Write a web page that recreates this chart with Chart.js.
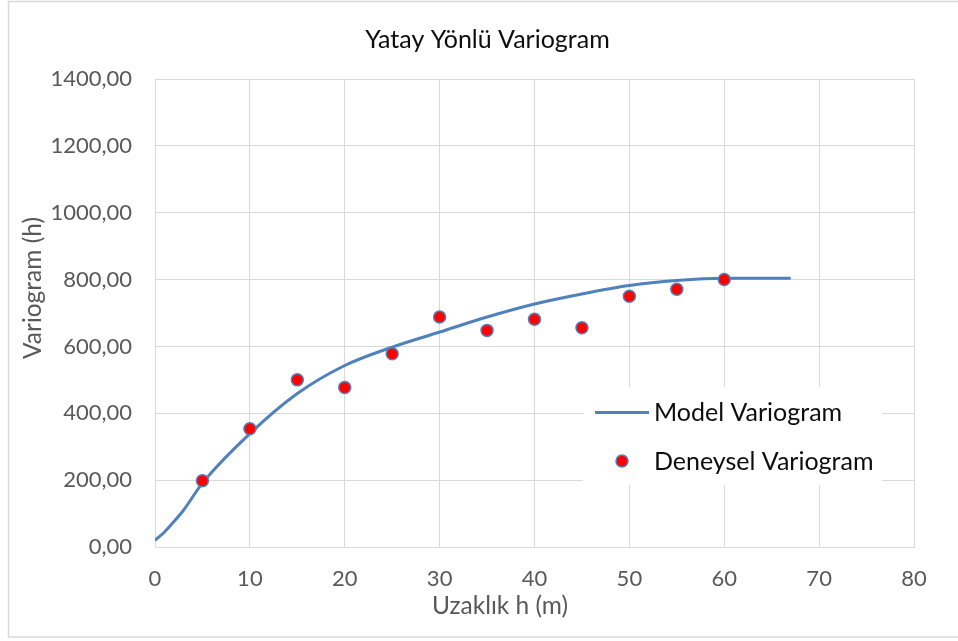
<!DOCTYPE html>
<html><head><meta charset="utf-8">
<script src="https://cdn.jsdelivr.net/npm/chart.js@4.4.0/dist/chart.umd.min.js"></script>
<style>html,body{margin:0;padding:0;background:#fff;overflow:hidden}</style>
</head><body>
<canvas id="c" width="958" height="641" style="display:block;width:958px;height:641px"></canvas>
<script>
const chartTitle = 'Yatay Yönlü Variogram';
const xAxisTitle = 'Uzaklık h (m)';
const yAxisTitle = 'Variogram (h)';
const modelLabel = 'Model Variogram';
const expLabel = 'Deneysel Variogram';

const modelX = [0, 1, 2, 3, 5, 10, 15, 20, 25, 30, 35, 40, 45, 50, 55, 60, 67];
const modelY = [20, 45, 76, 110, 191, 339, 459, 543, 598, 643, 688, 727, 757, 782, 797, 804, 804];

const expX = [5, 10, 15, 20, 25, 30, 35, 40, 45, 50, 55, 60];
const expY = [198, 354, 500, 477, 578, 688, 648, 681, 656, 750, 771, 800];

const xTicks = [0, 10, 20, 30, 40, 50, 60, 70, 80];
const yTicks = [0, 200, 400, 600, 800, 1000, 1200, 1400];

const FONT = 'Lato';
const LINE_COLOR = '#4F81BD';
const POINT_FILL = '#FF0000';
const GRID = '#D9D9D9';

const deco = {
  id: 'deco',
  beforeDraw(chart) {
    const ctx = chart.ctx;
    ctx.save();
    ctx.fillStyle = '#fff';
    ctx.fillRect(0, 0, chart.width, chart.height);
    ctx.strokeStyle = GRID;
    ctx.lineWidth = 1.5;
    ctx.strokeRect(8.5, 1.5, chart.width + 20, 635.5);
    ctx.restore();
  },
  afterDraw(chart) {
    const ctx = chart.ctx;
    ctx.save();
    // title
    ctx.fillStyle = '#0d0d0d';
    ctx.font = `25px ${FONT}`;
    ctx.textAlign = 'center';
    ctx.textBaseline = 'middle';
    ctx.fillText(chartTitle, 487.5, 40);
    // x axis title
    ctx.fillStyle = '#595959';
    ctx.font = `24.5px ${FONT}`;
    ctx.fillText(xAxisTitle, 500, 606);
    // y axis title
    ctx.save();
    ctx.translate(33, 288);
    ctx.rotate(-Math.PI / 2);
    ctx.fillText(yAxisTitle, 0, 0);
    ctx.restore();
    // legend
    ctx.fillStyle = '#fff';
    ctx.fillRect(583, 387, 299, 98);
    ctx.strokeStyle = LINE_COLOR;
    ctx.lineWidth = 3;
    ctx.beginPath();
    ctx.moveTo(595, 412.5);
    ctx.lineTo(649, 412.5);
    ctx.stroke();
    ctx.beginPath();
    ctx.arc(622, 461, 6, 0, Math.PI * 2);
    ctx.fillStyle = POINT_FILL;
    ctx.fill();
    ctx.lineWidth = 1.5;
    ctx.stroke();
    ctx.fillStyle = '#0d0d0d';
    ctx.font = `25px ${FONT}`;
    ctx.textAlign = 'left';
    ctx.fillText(chart.data.datasets[1].label, 654, 413);
    ctx.fillText(chart.data.datasets[0].label, 654, 462);
    ctx.restore();
  }
};

new Chart(document.getElementById('c'), {
  data: {
    datasets: [
      {
        type: 'scatter',
        label: expLabel,
        data: expX.map((x, i) => ({x, y: expY[i]})),
        backgroundColor: POINT_FILL,
        borderColor: LINE_COLOR,
        borderWidth: 1.5,
        pointRadius: 6,
        order: 0
      },
      {
        type: 'line',
        label: modelLabel,
        data: modelX.map((x, i) => ({x, y: modelY[i]})),
        borderColor: LINE_COLOR,
        borderWidth: 3,
        pointRadius: 0,
        fill: false,
        cubicInterpolationMode: 'monotone',
        order: 1
      }
    ]
  },
  options: {
    responsive: false,
    devicePixelRatio: 1,
    animation: false,
    layout: { padding: { top: 79, right: 44, bottom: 0, left: 0 } },
    plugins: { legend: { display: false }, title: { display: false }, tooltip: { enabled: false } },
    scales: {
      x: {
        type: 'linear', min: 0, max: 80,
        afterBuildTicks: s => { s.ticks = xTicks.map(v => ({value: v})); },
        afterFit: s => { s.height = 94; },
        grid: { color: GRID, lineWidth: 1, drawTicks: false },
        border: { display: true, color: GRID, width: 1 },
        ticks: { font: { family: FONT, size: 22 }, color: '#595959', padding: 19, callback: v => String(v) }
      },
      y: {
        type: 'linear', min: 0, max: 1400,
        afterBuildTicks: s => { s.ticks = yTicks.map(v => ({value: v})); },
        afterFit: s => { s.width = 155; },
        grid: { color: GRID, lineWidth: 1, drawTicks: false },
        border: { display: true, color: GRID, width: 1 },
        ticks: { font: { family: FONT, size: 22 }, color: '#595959', padding: 23, callback: v => v.toFixed(2).replace('.', ',') }
      }
    }
  },
  plugins: [deco]
});
</script>
</body></html>
